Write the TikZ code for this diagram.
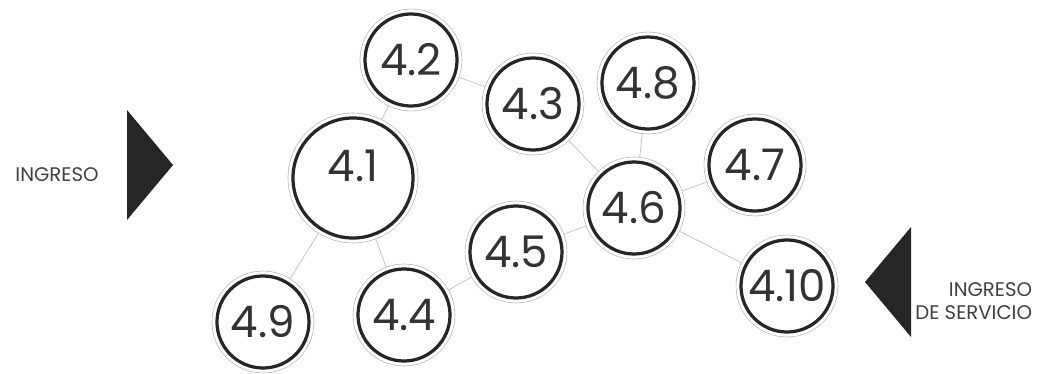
\documentclass[tikz,border=0pt]{standalone}
\usepackage{fontspec}
\setmainfont{Poppins}

\begin{document}
\begin{tikzpicture}[
  x=0.025cm, y=-0.025cm,
  room/.style={circle,draw=black!85,line width=2.3pt,fill=white,minimum size=2.3cm,inner sep=0pt,outer sep=3.8pt,
    font=\fontsize{31}{31}\selectfont,text=black!80,
    preaction={draw=gray!60,line width=0.45pt,double=white,double distance=6.6pt}},
  bigroom/.style={room,minimum size=3cm,text depth=18pt},
  link/.style={draw=gray!50,line width=0.5pt},
  entry/.style={fill=black!85},
  tag/.style={font=\fontsize{14}{16.5}\selectfont,text=black!75,align=right}
]
  \useasboundingbox (0,0) rectangle (1042,374);

  \node[room] (n42) at (411,60) {4.2};
  \node[room] (n43) at (533,104) {4.3};
  \node[room] (n48) at (648,83) {4.8};
  \node[bigroom] (n41) at (353,178) {4.1};
  \node[room] (n47) at (755,165) {4.7};
  \node[room] (n46) at (634,208) {4.6};
  \node[room] (n45) at (516,252) {4.5};
  \node[room] (n410) at (787,286) {4.10};
  \node[room] (n49) at (263,322) {4.9};
  \node[room] (n44) at (404,315) {4.4};

  \draw[link] (n41) -- (n42);
  \draw[link] (n42) -- (n43);
  \draw[link] (n43) -- (n46);
  \draw[link] (n48) -- (n46);
  \draw[link] (n46) -- (n47);
  \draw[link] (n46) -- (n45);
  \draw[link] (n46) -- (n410);
  \draw[link] (n45) -- (n44);
  \draw[link] (n41) -- (n49);
  \draw[link] (n41) -- (n44);

  \fill[entry] (127,110) -- (173,165) -- (127,220) -- cycle;
  \fill[entry] (911,227) -- (865,282) -- (911,337) -- cycle;

  \node[tag] (ingreso) at (57,175) {INGRESO};
  \node[tag,anchor=east] (servicio) at (1037,301) {INGRESO\\DE SERVICIO};
\end{tikzpicture}
\end{document}
